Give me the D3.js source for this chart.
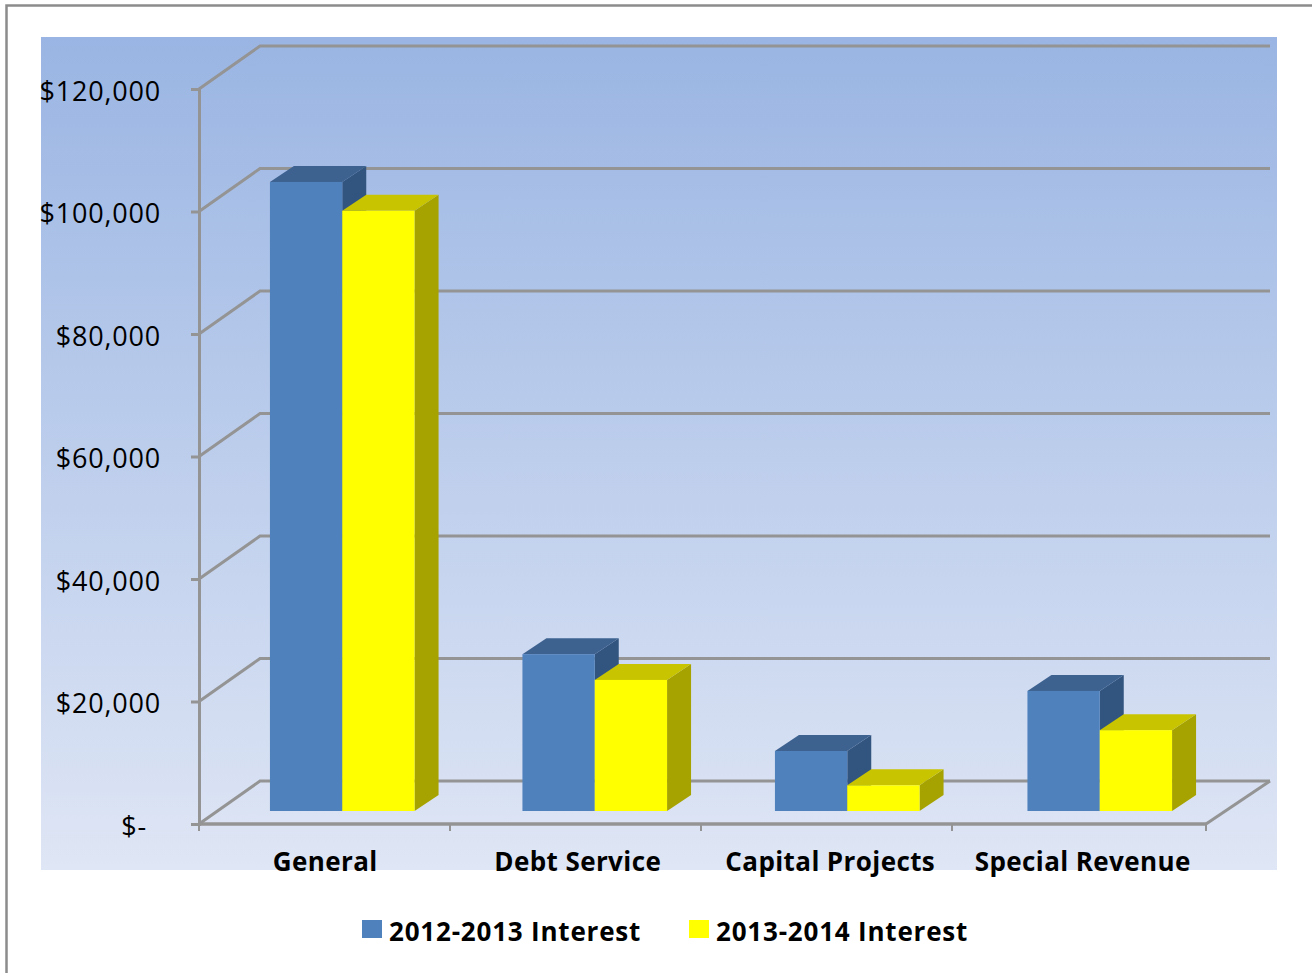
<!doctype html>
<html>
  <head>
    <meta charset="utf-8"/>
    <style>
      html, body { margin: 0; padding: 0; background: #fff; }
      svg { display: block; }
      text { font-family: "Open Sans", sans-serif; fill: #000; }
    </style>
  </head>
  <body>
    <script src="https://cdn.jsdelivr.net/npm/d3@7"></script>
    <script>
      const categories = ['General', 'Debt Service', 'Capital Projects', 'Special Revenue'];
      const seriesNames = ['2012-2013 Interest', '2013-2014 Interest'];
      const interest2012 = [102700, 25600, 9800, 19600];
      const interest2013 = [98000, 21400, 4200, 13200];
      const tickValues = [0, 20000, 40000, 60000, 80000, 100000, 120000];

      const width = 1312, height = 973;
      const gridColor = '#949494';

      // wall depth and bar depth of the fake 3d box
      const wall = { dx: 61, dy: -43 };
      const barShift = { dx: 17, dy: -13 };
      const barDepth = { dx: 24, dy: -16 };

      const colors = [
        { front: '#4f81bd', top: '#3d6290', side: '#32557f' },
        { front: '#ffff00', top: '#c8c400', side: '#a6a200' }
      ];

      const svg = d3.create('svg')
            .attr('width', width)
            .attr('height', height)
            .attr('viewBox', [0, 0, width, height]);

      const grad = svg.append('defs').append('linearGradient')
            .attr('id', 'panel')
            .attr('x1', 0).attr('x2', 0).attr('y1', 0).attr('y2', 1);
      grad.append('stop').attr('offset', '0%').attr('stop-color', '#9ab5e3');
      grad.append('stop').attr('offset', '100%').attr('stop-color', '#dfe6f5');

      // outer frame, only top and left are inside the picture
      svg.append('path')
        .attr('d', d3.line()([[6.5, height], [6.5, 5.5], [width, 5.5]]))
        .attr('fill', 'none')
        .attr('stroke', '#8c8c8c')
        .attr('stroke-width', 2.5);

      svg.append('rect')
        .attr('x', 41).attr('y', 37)
        .attr('width', 1236).attr('height', 833)
        .attr('fill', 'url(#panel)');

      const x = d3.scaleBand().domain(categories).range([199, 1209]);
      const xInner = d3.scaleBand().domain([0, 1]).range([0, x.bandwidth()]).paddingOuter(0.746);
      const xMarks = d3.scaleBand().domain(categories).range([199, 1203]);
      const y = d3.scaleLinear().domain([0, 120000]).range([824, 89]);

      // walls and gridlines
      const xLeft = 199, xRight = 1206;
      svg.append('g')
        .selectAll('path')
        .data(tickValues)
        .join('path')
        .attr('fill', 'none')
        .attr('stroke', gridColor)
        .attr('stroke-width', 3)
        .attr('d', d => d3.line()([
          [xLeft, y(d)],
          [xLeft + wall.dx, y(d) + wall.dy],
          [xRight + wall.dx + 3, y(d) + wall.dy]
        ]));

      // floor right edge
      svg.append('path')
        .attr('fill', 'none')
        .attr('stroke', gridColor)
        .attr('stroke-width', 3)
        .attr('d', d3.line()([
          [xRight, y(0)],
          [xRight + wall.dx + 3, y(0) + wall.dy]
        ]));

      const yAxis = d3.axisLeft(y)
            .tickValues(tickValues)
            .tickSize(8)
            .tickPadding(30)
            .tickFormat(d => d === 0 ? '$-' : '$' + d3.format(',')(d));

      const yG = svg.append('g')
            .attr('transform', 'translate(' + xLeft + ',0)')
            .call(yAxis);
      yG.selectAll('path, line').attr('stroke', gridColor).attr('stroke-width', 3);
      yG.selectAll('text')
        .attr('font-size', 27)
        .attr('letter-spacing', 0.8)
        .style('font-family', '"Open Sans", sans-serif')
        .attr('dx', d => d === 0 ? -14 : 0)
        .attr('dy', '0.42em');

      const xAxis = d3.axisBottom(x).tickSize(0).tickPadding(29);
      const xG = svg.append('g')
            .attr('transform', 'translate(0,' + y(0) + ')')
            .call(xAxis);
      xG.select('.domain')
        .attr('d', d3.line()([[xLeft, 0], [xRight, 0]]))
        .attr('stroke', gridColor)
        .attr('stroke-width', 3.6);
      xG.selectAll('text')
        .attr('font-size', 26)
        .attr('font-weight', 700)
        .attr('letter-spacing', 0.4)
        .style('font-family', '"Open Sans", sans-serif');

      // small marks under the floor line, between the categories
      svg.append('g')
        .selectAll('line')
        .data(categories.map(c => xMarks(c)).concat([xRight]))
        .join('line')
        .attr('x1', d => d).attr('x2', d => d)
        .attr('y1', y(0)).attr('y2', y(0) + 7)
        .attr('stroke', gridColor)
        .attr('stroke-width', 2);

      // bars
      const pts = a => a.map(p => p.join(',')).join(' ');
      const bars = [];
      [interest2012, interest2013].forEach((vals, s) => {
        vals.forEach((v, i) => bars.push({ s, i, v }));
      });

      const bar = svg.append('g')
            .selectAll('g')
            .data(bars)
            .join('g');

      const bx = d => x(categories[d.i]) + xInner(d.s) + barShift.dx;
      const by = d => y(d.v) + barShift.dy;
      const bb = () => y(0) + barShift.dy;
      const bw = xInner.bandwidth();

      bar.append('polygon')
        .attr('fill', d => colors[d.s].side)
        .attr('points', d => pts([
          [bx(d) + bw, by(d)],
          [bx(d) + bw + barDepth.dx, by(d) + barDepth.dy],
          [bx(d) + bw + barDepth.dx, bb() + barDepth.dy],
          [bx(d) + bw, bb()]
        ]));
      bar.append('polygon')
        .attr('fill', d => colors[d.s].top)
        .attr('points', d => pts([
          [bx(d), by(d)],
          [bx(d) + barDepth.dx, by(d) + barDepth.dy],
          [bx(d) + bw + barDepth.dx, by(d) + barDepth.dy],
          [bx(d) + bw, by(d)]
        ]));
      bar.append('rect')
        .attr('fill', d => colors[d.s].front)
        .attr('x', bx)
        .attr('y', by)
        .attr('width', bw)
        .attr('height', d => bb() - by(d));

      // legend
      const legendX = [362, 689];
      const legend = svg.append('g')
            .selectAll('g')
            .data(seriesNames)
            .join('g')
            .attr('transform', (d, i) => 'translate(' + legendX[i] + ',920)');
      legend.append('rect')
        .attr('width', 20).attr('height', 18)
        .attr('fill', (d, i) => colors[i].front);
      legend.append('text')
        .attr('x', 27).attr('y', 21)
        .attr('font-size', 26)
        .attr('font-weight', 700)
        .attr('letter-spacing', 0.8)
        .text(d => d);

      document.body.append(svg.node());
    </script>
  </body>
</html>
